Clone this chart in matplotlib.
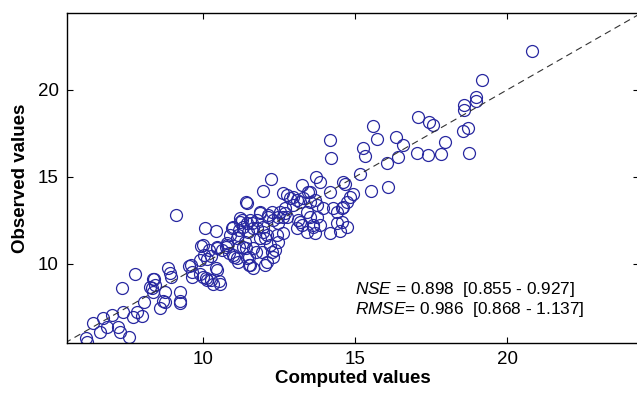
import matplotlib
matplotlib.use("Agg")
import matplotlib.pyplot as plt

computed = [
    20.82, 19.18, 18.98, 18.98, 18.59, 18.59, 17.07, 17.43, 17.57, 15.59,
    18.72, 18.55, 14.18, 15.72, 16.35, 16.58, 17.96, 15.26, 15.33, 14.21,
    16.41, 17.04, 17.40, 17.83, 18.75, 16.05, 15.16, 13.72, 13.85, 14.61,
    14.67, 16.09, 15.53, 13.52, 14.18, 14.93,
    12.24, 11.97, 11.41, 12.76, 11.88, 12.14, 12.30, 11.30, 11.60, 11.78,
    11.97, 12.10, 11.20, 10.99, 10.89, 11.12, 11.38, 12.53, 12.47, 12.43,
    12.47, 12.37, 12.70, 10.79, 10.46, 10.00, 11.64, 11.94, 12.20, 12.63,
    13.29, 13.52, 13.09, 12.96, 13.75, 13.95, 14.74, 14.57, 14.41, 12.70,
    12.76, 12.27, 13.42, 13.52, 13.75, 13.19, 13.85, 14.41, 14.57, 13.42,
    14.18, 14.50, 14.74, 13.09, 13.26, 13.68, 14.28, 14.84, 14.61, 13.62,
    13.68, 13.26, 13.45, 12.86, 13.13, 13.62, 12.63, 12.27, 12.10, 12.30,
    12.04, 11.55, 11.64, 10.62, 10.79, 10.99, 11.12, 11.45, 11.32, 11.88,
    12.04, 11.97, 12.14, 11.88, 11.78, 11.45, 11.22, 11.45, 12.47, 12.63,
    12.96, 13.19,
    10.07, 10.43, 10.95, 11.22, 11.32, 11.55, 11.49, 11.15, 11.64, 9.93,
    10.03, 10.26, 10.20, 10.46, 10.76, 10.86, 11.02, 11.18, 11.41, 11.51,
    11.51, 11.74, 11.15, 9.61, 9.64, 9.90, 10.00, 10.13, 10.33, 10.56,
    10.46, 8.85, 8.91, 8.36, 8.32, 8.75, 9.24, 9.24, 8.68,
    9.11, 9.90, 10.13, 10.43, 9.54, 9.64, 10.10, 10.26, 10.53, 8.95,
    9.24, 8.59, 8.75, 8.39, 8.26, 8.36, 8.06, 7.76, 7.33, 7.83,
    7.70, 7.99, 7.37, 7.00, 6.71, 6.38, 6.61, 6.84, 7.20, 7.27,
    7.57, 6.15, 6.18, 8.42,
]
observed = [
    22.24, 20.57, 19.60, 19.37, 19.14, 18.85, 18.45, 18.16, 17.99, 17.93,
    17.82, 17.64, 17.13, 17.18, 17.30, 16.84, 17.01, 16.67, 16.21, 16.09,
    16.15, 16.38, 16.26, 16.32, 16.38, 15.80, 15.17, 15.00, 14.71, 14.71,
    14.60, 14.43, 14.20, 14.14, 14.14, 14.02,
    14.89, 14.20, 13.56, 13.97, 12.99, 12.82, 12.53, 12.53, 12.36, 12.07,
    11.84, 11.67, 11.95, 12.13, 11.67, 11.49, 11.26, 12.99, 12.36, 11.67,
    11.26, 10.80, 13.22, 11.09, 10.98, 11.09, 10.92, 10.69, 11.09, 14.08,
    13.79, 13.56, 13.68, 13.39, 13.39, 13.22, 13.56, 13.22, 12.99, 12.93,
    12.70, 12.99, 12.99, 12.70, 12.70, 12.41, 12.24, 12.36, 12.41, 11.84,
    11.78, 11.90, 12.13, 12.07, 14.54, 13.68, 13.22, 13.85, 13.28, 12.24,
    11.78, 12.24, 14.14, 13.79, 12.53, 12.13, 11.78, 10.69, 10.10, 10.40,
    9.94, 9.94, 9.77, 10.80, 11.20, 10.52, 10.34, 10.34, 10.98, 11.49,
    11.49, 12.13, 12.70, 12.93, 12.53, 12.36, 12.64, 13.50, 12.70, 12.70,
    13.85, 13.56,
    12.07, 11.90, 12.07, 12.41, 12.13, 12.53, 11.84, 11.67, 12.07, 11.03,
    10.52, 10.46, 10.80, 10.92, 10.98, 10.63, 10.40, 10.98, 10.92, 9.94,
    10.40, 10.69, 10.11, 9.94, 9.54, 9.43, 9.25, 9.08, 8.85, 8.85,
    9.66, 9.77, 9.48, 9.14, 8.62, 8.39, 8.39, 7.87, 7.87,
    12.82, 10.23, 10.29, 9.77, 9.89, 9.25, 9.20, 9.08, 9.02, 9.25,
    7.76, 7.47, 7.82, 9.14, 8.68, 8.39, 7.82, 9.43, 8.62, 7.24,
    6.95, 7.01, 7.24, 7.07, 6.90, 6.61, 6.09, 6.38, 6.38, 6.09,
    5.80, 5.75, 5.52, 8.79,
]

x_limits = [5.53, 24.34]
y_limits = [5.46, 24.42]
ticks = [10, 15, 20]
nse_text = r"$\mathit{NSE}$ = 0.898  [0.855 - 0.927]"
rmse_text = r"$\mathit{RMSE}$= 0.986  [0.868 - 1.137]"

plt.rcParams["font.family"] = ["Liberation Sans", "DejaVu Sans"]
plt.rcParams["mathtext.fontset"] = "custom"
plt.rcParams["mathtext.it"] = "Liberation Sans:italic"
plt.rcParams["mathtext.rm"] = "Liberation Sans"

fig = plt.figure(figsize=(6.37, 3.97), dpi=100)
W, H = 637, 397
ax = fig.add_axes([67 / W, (H - 343) / H, (639 - 67) / W, (343 - 13) / H])

ax.plot(computed, observed, "o", mfc="none", mec="#2828a0", mew=0.9, ms=8.6)

# 1:1 line across the full plot range
lo = min(x_limits[0], y_limits[0])
hi = max(x_limits[1], y_limits[1])
ax.plot([lo, hi], [lo, hi], "--", color="#333333", lw=0.8, dashes=(6, 4))

ax.set_xlim(x_limits)
ax.set_ylim(y_limits)
ax.set_xticks(ticks)
ax.set_yticks(ticks)
ax.tick_params(direction="in", length=4, width=0.8, top=True, right=True,
               labelsize=13.5, pad=6)
for s in ax.spines.values():
    s.set_linewidth(1.0)

ax.set_xlabel("Computed values", fontsize=13.5, fontweight="bold", labelpad=1)
ax.set_ylabel("Observed values", fontsize=13.5, fontweight="bold", labelpad=6)

ax.text(15.0, 8.56, nse_text, fontsize=12.4, va="center", ha="left")
ax.text(15.0, 7.41, rmse_text, fontsize=12.4, va="center", ha="left")

fig.savefig("out.png", dpi=100)
